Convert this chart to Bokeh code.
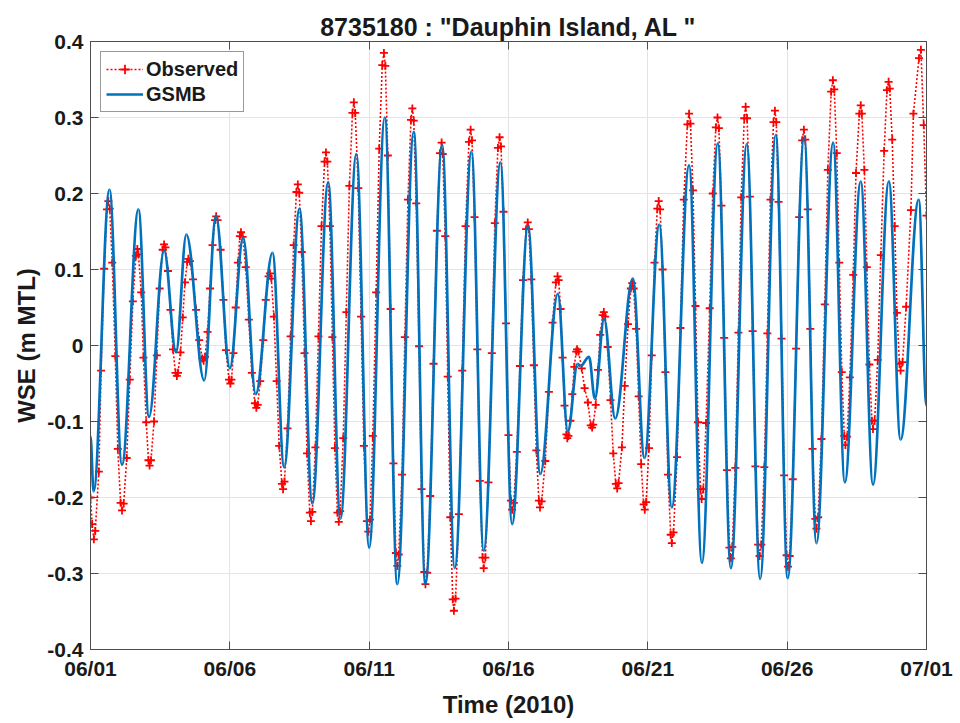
import numpy as np
from bokeh.plotting import figure
from bokeh.models import (ColumnDataSource, FixedTicker, LinearAxis, Legend,
                          LegendItem, Range1d)
from bokeh.embed import file_html
from bokeh.resources import INLINE

# ---------------- data (days since 2010-06-01, WSE in m MTL) ----------------
title_text = '8735180 : "Dauphin Island, AL "'
x_label = "Time (2010)"
y_label = "WSE (m MTL)"

x_ticks = [0, 5, 10, 15, 20, 25, 30]
x_tick_labels = ["06/01", "06/06", "06/11", "06/16", "06/21", "06/26", "07/01"]
y_ticks = [-0.4, -0.3, -0.2, -0.1, 0.0, 0.1, 0.2, 0.3, 0.4]
y_tick_labels = ["-0.4", "-0.3", "-0.2", "-0.1", "0", "0.1", "0.2", "0.3", "0.4"]

# GSMB model: turning points (highs / lows) of the modelled water level
gsmb_day = [0.00, 0.11, 0.68, 1.13, 1.72, 2.10, 2.64, 3.07, 3.44, 4.08,
            4.50, 5.00, 5.48, 5.93, 6.53, 6.95, 7.50, 7.96, 8.53, 8.97,
            9.54, 10.00, 10.56, 11.01, 11.60, 12.02, 12.62, 13.07, 13.67, 14.11,
            14.71, 15.13, 15.70, 16.14, 16.77, 17.13, 17.48, 17.58, 17.89, 18.10,
            18.43, 18.83, 19.46, 19.88, 20.41, 20.86, 21.48, 21.94, 22.51, 22.98,
            23.55, 24.03, 24.59, 25.02, 25.61, 26.05, 26.65, 27.07, 27.64, 28.08,
            28.65, 29.07, 29.72, 30.00]
gsmb_wse = [-0.120, -0.192, 0.205, -0.157, 0.179, -0.094, 0.125, -0.009, 0.146, -0.046,
            0.171, -0.030, 0.142, -0.064, 0.122, -0.160, 0.180, -0.208, 0.215, -0.228,
            0.252, -0.266, 0.300, -0.314, 0.281, -0.314, 0.264, -0.293, 0.255, -0.270,
            0.241, -0.235, 0.157, -0.169, 0.068, -0.113, -0.024, -0.027, -0.015, -0.070,
            0.035, -0.096, 0.088, -0.148, 0.159, -0.213, 0.237, -0.286, 0.266, -0.293,
            0.265, -0.307, 0.277, -0.306, 0.274, -0.260, 0.267, -0.180, 0.216, -0.183,
            0.216, -0.124, 0.192, -0.079]

# Observed: sample points read along each rise / fall (one line per half tide)
obs_day = [0.00, 0.06, 0.12,
           0.17, 0.30, 0.38, 0.49, 0.59, 0.64,
           0.69, 0.78, 0.89, 0.98, 1.08, 1.13,
           1.19, 1.30, 1.41, 1.52, 1.63, 1.68,
           1.72, 1.82, 1.90, 2.00, 2.08, 2.12,
           2.17, 2.28, 2.38, 2.48, 2.59, 2.64,
           2.69, 2.78, 2.87, 2.96, 3.05, 3.10,
           3.14, 3.23, 3.31, 3.39, 3.47, 3.51,
           3.57, 3.68, 3.79, 3.90, 4.01, 4.06,
           4.11, 4.20, 4.29, 4.38, 4.47, 4.51,
           4.56, 4.67, 4.77, 4.86, 4.97, 5.02,
           5.06, 5.13, 5.21, 5.29, 5.36, 5.40,
           5.46, 5.57, 5.68, 5.79, 5.90, 5.95,
           6.00, 6.09, 6.20, 6.29, 6.39, 6.44,
           6.49, 6.58, 6.68, 6.77, 6.87, 6.91,
           6.96, 7.07, 7.18, 7.29, 7.39, 7.44,
           7.49, 7.58, 7.68, 7.77, 7.87, 7.91,
           7.96, 8.07, 8.18, 8.29, 8.40, 8.45,
           8.50, 8.59, 8.68, 8.77, 8.86, 8.91,
           8.96, 9.07, 9.18, 9.29, 9.40, 9.45,
           9.50, 9.61, 9.71, 9.81, 9.92, 9.97,
           10.03, 10.13, 10.25, 10.36, 10.47, 10.53,
           10.58, 10.67, 10.77, 10.87, 10.96, 11.01,
           11.06, 11.18, 11.28, 11.39, 11.50, 11.55,
           11.60, 11.69, 11.79, 11.88, 11.98, 12.02,
           12.08, 12.19, 12.31, 12.43, 12.54, 12.60,
           12.64, 12.73, 12.82, 12.91, 13.00, 13.04,
           13.10, 13.22, 13.34, 13.46, 13.58, 13.64,
           13.69, 13.78, 13.88, 13.97, 14.07, 14.11,
           14.17, 14.28, 14.40, 14.51, 14.62, 14.68,
           14.73, 14.82, 14.91, 15.00, 15.09, 15.13,
           15.19, 15.30, 15.41, 15.52, 15.63, 15.69,
           15.73, 15.82, 15.91, 16.00, 16.09, 16.13,
           16.19, 16.32, 16.45, 16.58, 16.70, 16.76,
           16.80, 16.87, 16.94, 17.01, 17.08, 17.11,
           17.15, 17.22, 17.29, 17.36, 17.43, 17.46,
           17.51, 17.63, 17.73, 17.85, 17.95, 18.00,
           18.04, 18.13, 18.21, 18.29, 18.38, 18.42,
           18.47, 18.56, 18.66, 18.76, 18.85, 18.90,
           18.95, 19.07, 19.17, 19.29, 19.39, 19.44,
           19.49, 19.58, 19.67, 19.76, 19.85, 19.89,
           19.94, 20.04, 20.14, 20.24, 20.34, 20.39,
           20.44, 20.53, 20.63, 20.72, 20.82, 20.86,
           20.92, 21.05, 21.17, 21.29, 21.42, 21.48,
           21.53, 21.62, 21.71, 21.80, 21.89, 21.93,
           21.99, 22.09, 22.22, 22.33, 22.44, 22.50,
           22.55, 22.64, 22.74, 22.84, 22.93, 22.98,
           23.03, 23.14, 23.25, 23.35, 23.46, 23.51,
           23.56, 23.66, 23.76, 23.86, 23.96, 24.01,
           24.07, 24.18, 24.29, 24.40, 24.51, 24.56,
           24.61, 24.69, 24.80, 24.89, 24.98, 25.03,
           25.09, 25.20, 25.32, 25.43, 25.54, 25.60,
           25.65, 25.74, 25.83, 25.91, 26.01, 26.05,
           26.11, 26.23, 26.35, 26.46, 26.58, 26.64,
           26.69, 26.78, 26.87, 26.96, 27.05, 27.09,
           27.15, 27.25, 27.37, 27.47, 27.59, 27.64,
           27.68, 27.77, 27.86, 27.95, 28.04, 28.08,
           28.14, 28.25, 28.36, 28.48, 28.58, 28.64,
           28.68, 28.77, 28.86, 28.94, 29.03, 29.07,
           29.14, 29.27, 29.44, 29.53, 29.73, 29.80,
           29.90, 30.00]
obs_wse = [-0.200, -0.235, -0.255,
           -0.244, -0.166, -0.033, 0.101, 0.179, 0.190,
           0.180, 0.109, -0.014, -0.136, -0.207, -0.217,
           -0.208, -0.148, -0.045, 0.058, 0.118, 0.127,
           0.120, 0.070, -0.016, -0.101, -0.151, -0.158,
           -0.151, -0.100, -0.013, 0.075, 0.126, 0.133,
           0.129, 0.098, 0.047, -0.005, -0.036, -0.040,
           -0.036, -0.009, 0.037, 0.083, 0.110, 0.114,
           0.111, 0.087, 0.047, 0.007, -0.017, -0.020,
           -0.015, 0.018, 0.075, 0.132, 0.165, 0.170,
           0.165, 0.126, 0.060, -0.006, -0.045, -0.050,
           -0.045, -0.010, 0.050, 0.109, 0.144, 0.149,
           0.143, 0.103, 0.034, -0.036, -0.076, -0.082,
           -0.078, -0.047, 0.007, 0.060, 0.091, 0.095,
           0.088, 0.038, -0.047, -0.132, -0.182, -0.189,
           -0.179, -0.109, 0.012, 0.132, 0.202, 0.212,
           0.201, 0.123, -0.010, -0.142, -0.220, -0.231,
           -0.219, -0.134, 0.012, 0.157, 0.242, 0.254,
           0.242, 0.157, 0.011, -0.135, -0.220, -0.232,
           -0.218, -0.122, 0.044, 0.210, 0.306, 0.320,
           0.306, 0.207, 0.038, -0.132, -0.231, -0.245,
           -0.229, -0.119, 0.070, 0.259, 0.369, 0.385,
           0.368, 0.250, 0.048, -0.155, -0.273, -0.290,
           -0.275, -0.170, 0.011, 0.192, 0.297, 0.312,
           0.296, 0.187, -0.001, -0.189, -0.298, -0.314,
           -0.299, -0.198, -0.024, 0.151, 0.253, 0.267,
           0.252, 0.144, -0.041, -0.226, -0.334, -0.349,
           -0.333, -0.222, -0.033, 0.157, 0.268, 0.284,
           0.270, 0.169, -0.005, -0.178, -0.279, -0.293,
           -0.279, -0.180, -0.010, 0.161, 0.260, 0.274,
           0.262, 0.176, 0.029, -0.118, -0.204, -0.216,
           -0.207, -0.140, -0.027, 0.086, 0.153, 0.162,
           0.153, 0.087, -0.026, -0.138, -0.204, -0.213,
           -0.205, -0.152, -0.061, 0.030, 0.083, 0.091,
           0.086, 0.048, -0.016, -0.079, -0.117, -0.122,
           -0.119, -0.099, -0.064, -0.028, -0.008, -0.005,
           -0.008, -0.030, -0.056, -0.075, -0.105, -0.108,
           -0.104, -0.078, -0.032, 0.014, 0.040, 0.044,
           0.038, -0.002, -0.072, -0.142, -0.182, -0.188,
           -0.181, -0.134, -0.053, 0.028, 0.075, 0.082,
           0.075, 0.022, -0.067, -0.156, -0.209, -0.216,
           -0.206, -0.135, -0.013, 0.109, 0.180, 0.190,
           0.179, 0.100, -0.035, -0.170, -0.249, -0.260,
           -0.246, -0.147, 0.023, 0.192, 0.291, 0.305,
           0.292, 0.204, 0.052, -0.101, -0.189, -0.202,
           -0.189, -0.102, 0.049, 0.200, 0.287, 0.300,
           0.286, 0.184, 0.010, -0.164, -0.266, -0.280,
           -0.265, -0.161, 0.017, 0.195, 0.299, 0.314,
           0.299, 0.196, 0.019, -0.159, -0.262, -0.277,
           -0.262, -0.160, 0.016, 0.192, 0.294, 0.309,
           0.294, 0.189, 0.009, -0.171, -0.276, -0.291,
           -0.277, -0.176, -0.004, 0.169, 0.270, 0.284,
           0.271, 0.179, 0.022, -0.136, -0.228, -0.241,
           -0.226, -0.123, 0.054, 0.231, 0.334, 0.349,
           0.337, 0.253, 0.109, -0.035, -0.119, -0.131,
           -0.120, -0.042, 0.093, 0.227, 0.305, 0.316,
           0.305, 0.231, 0.103, -0.025, -0.099, -0.110,
           -0.099, -0.019, 0.119, 0.256, 0.336, 0.347,
           0.338, 0.271, 0.157, 0.043, -0.024, -0.033,
           -0.022, 0.051, 0.178, 0.305, 0.378, 0.389,
           0.290, 0.171]

# ---------------- styling ----------------
FONT = "Liberation Sans"
TEXT = "#1a1a1a"
AXIS = "#4d4d4d"
GRID = "#e4e4e4"
BLUE = "#0072BD"
RED = "#FF0000"

p = figure(width=955, height=720, output_backend="svg", toolbar_location=None,
           x_range=Range1d(0, 30), y_range=Range1d(-0.4, 0.4),
           min_border_left=90, min_border_right=29, min_border_top=41,
           min_border_bottom=70)
p.background_fill_color = "white"
p.border_fill_color = "white"
p.outline_line_color = AXIS

p.title.text = title_text
p.title.text_font = FONT
p.title.text_font_size = "25px"
p.title.text_font_style = "bold"
p.title.text_color = TEXT
p.title.align = "center"
p.title.standoff = 2

# grid
p.xgrid.ticker = FixedTicker(ticks=x_ticks)
p.ygrid.ticker = FixedTicker(ticks=y_ticks)
p.xgrid.grid_line_color = GRID
p.ygrid.grid_line_color = GRID

# axes
def style_axis(ax, ticks, labels):
    ax.ticker = FixedTicker(ticks=ticks)
    ax.major_label_overrides = dict(zip(ticks, labels))
    ax.major_tick_in = 8
    ax.major_tick_out = 0
    ax.minor_tick_line_color = None
    ax.axis_line_color = AXIS
    ax.major_tick_line_color = AXIS
    ax.major_label_text_font = FONT
    ax.major_label_text_font_size = "21px"
    ax.major_label_text_font_style = "bold"
    ax.major_label_text_color = TEXT
    ax.axis_label_text_font = FONT
    ax.axis_label_text_font_size = "24px"
    ax.axis_label_text_font_style = "bold"
    ax.axis_label_text_color = TEXT

style_axis(p.xaxis[0], x_ticks, x_tick_labels)
style_axis(p.yaxis[0], y_ticks, y_tick_labels)
p.xaxis[0].axis_label = x_label
p.yaxis[0].axis_label = y_label
p.xaxis[0].major_label_standoff = 7
p.yaxis[0].major_label_standoff = 7
p.xaxis[0].axis_label_standoff = 8
p.yaxis[0].axis_label_standoff = 4

# tick marks on the top and right edges of the box (no labels)
for loc, ticks in (("above", x_ticks), ("right", y_ticks)):
    ax = LinearAxis(ticker=FixedTicker(ticks=ticks))
    ax.major_label_text_color = None
    ax.major_label_text_font_size = "2px"
    ax.major_label_standoff = 0
    ax.major_tick_in = 8
    ax.major_tick_out = 0
    ax.minor_tick_line_color = None
    ax.axis_line_color = AXIS
    ax.major_tick_line_color = AXIS
    p.add_layout(ax, loc)

# observed: dotted line with + markers
obs_src = ColumnDataSource(dict(day=obs_day, wse=obs_wse))
obs_line = p.line("day", "wse", source=obs_src, line_color=RED,
                  line_width=1.6, line_dash="2 2")
obs_pts = p.scatter("day", "wse", source=obs_src, marker="cross", size=8,
                    line_color=RED, line_width=1.8)

# GSMB model: smooth curve through its turning points
g_t = np.asarray(gsmb_day)
g_v = np.asarray(gsmb_wse)
k = 0.3634
dt = g_t[1:] - g_t[:-1]
bez_src = ColumnDataSource(dict(
    x0=g_t[:-1], y0=g_v[:-1], x1=g_t[1:], y1=g_v[1:],
    cx0=g_t[:-1] + k * dt, cy0=g_v[:-1],
    cx1=g_t[1:] - k * dt, cy1=g_v[1:]))
gsmb_r = p.bezier(x0="x0", y0="y0", x1="x1", y1="y1", cx0="cx0", cy0="cy0",
                  cx1="cx1", cy1="cy1", source=bez_src, line_color=BLUE,
                  line_width=2.7)

legend = Legend(items=[LegendItem(label="Observed", renderers=[obs_line, obs_pts]),
                       LegendItem(label="GSMB", renderers=[gsmb_r])],
                location="top_left")
legend.label_text_font = FONT
legend.label_text_font_size = "20px"
legend.label_text_font_style = "bold"
legend.label_text_color = TEXT
legend.glyph_width = 37
legend.glyph_height = 24
legend.label_height = 24
legend.label_standoff = 3
legend.spacing = 1
legend.padding = 5
legend.margin = 10
legend.border_line_color = "#333333"
legend.border_line_width = 1
legend.background_fill_alpha = 1
p.add_layout(legend)

open("out.html", "w").write(file_html(p, INLINE))
